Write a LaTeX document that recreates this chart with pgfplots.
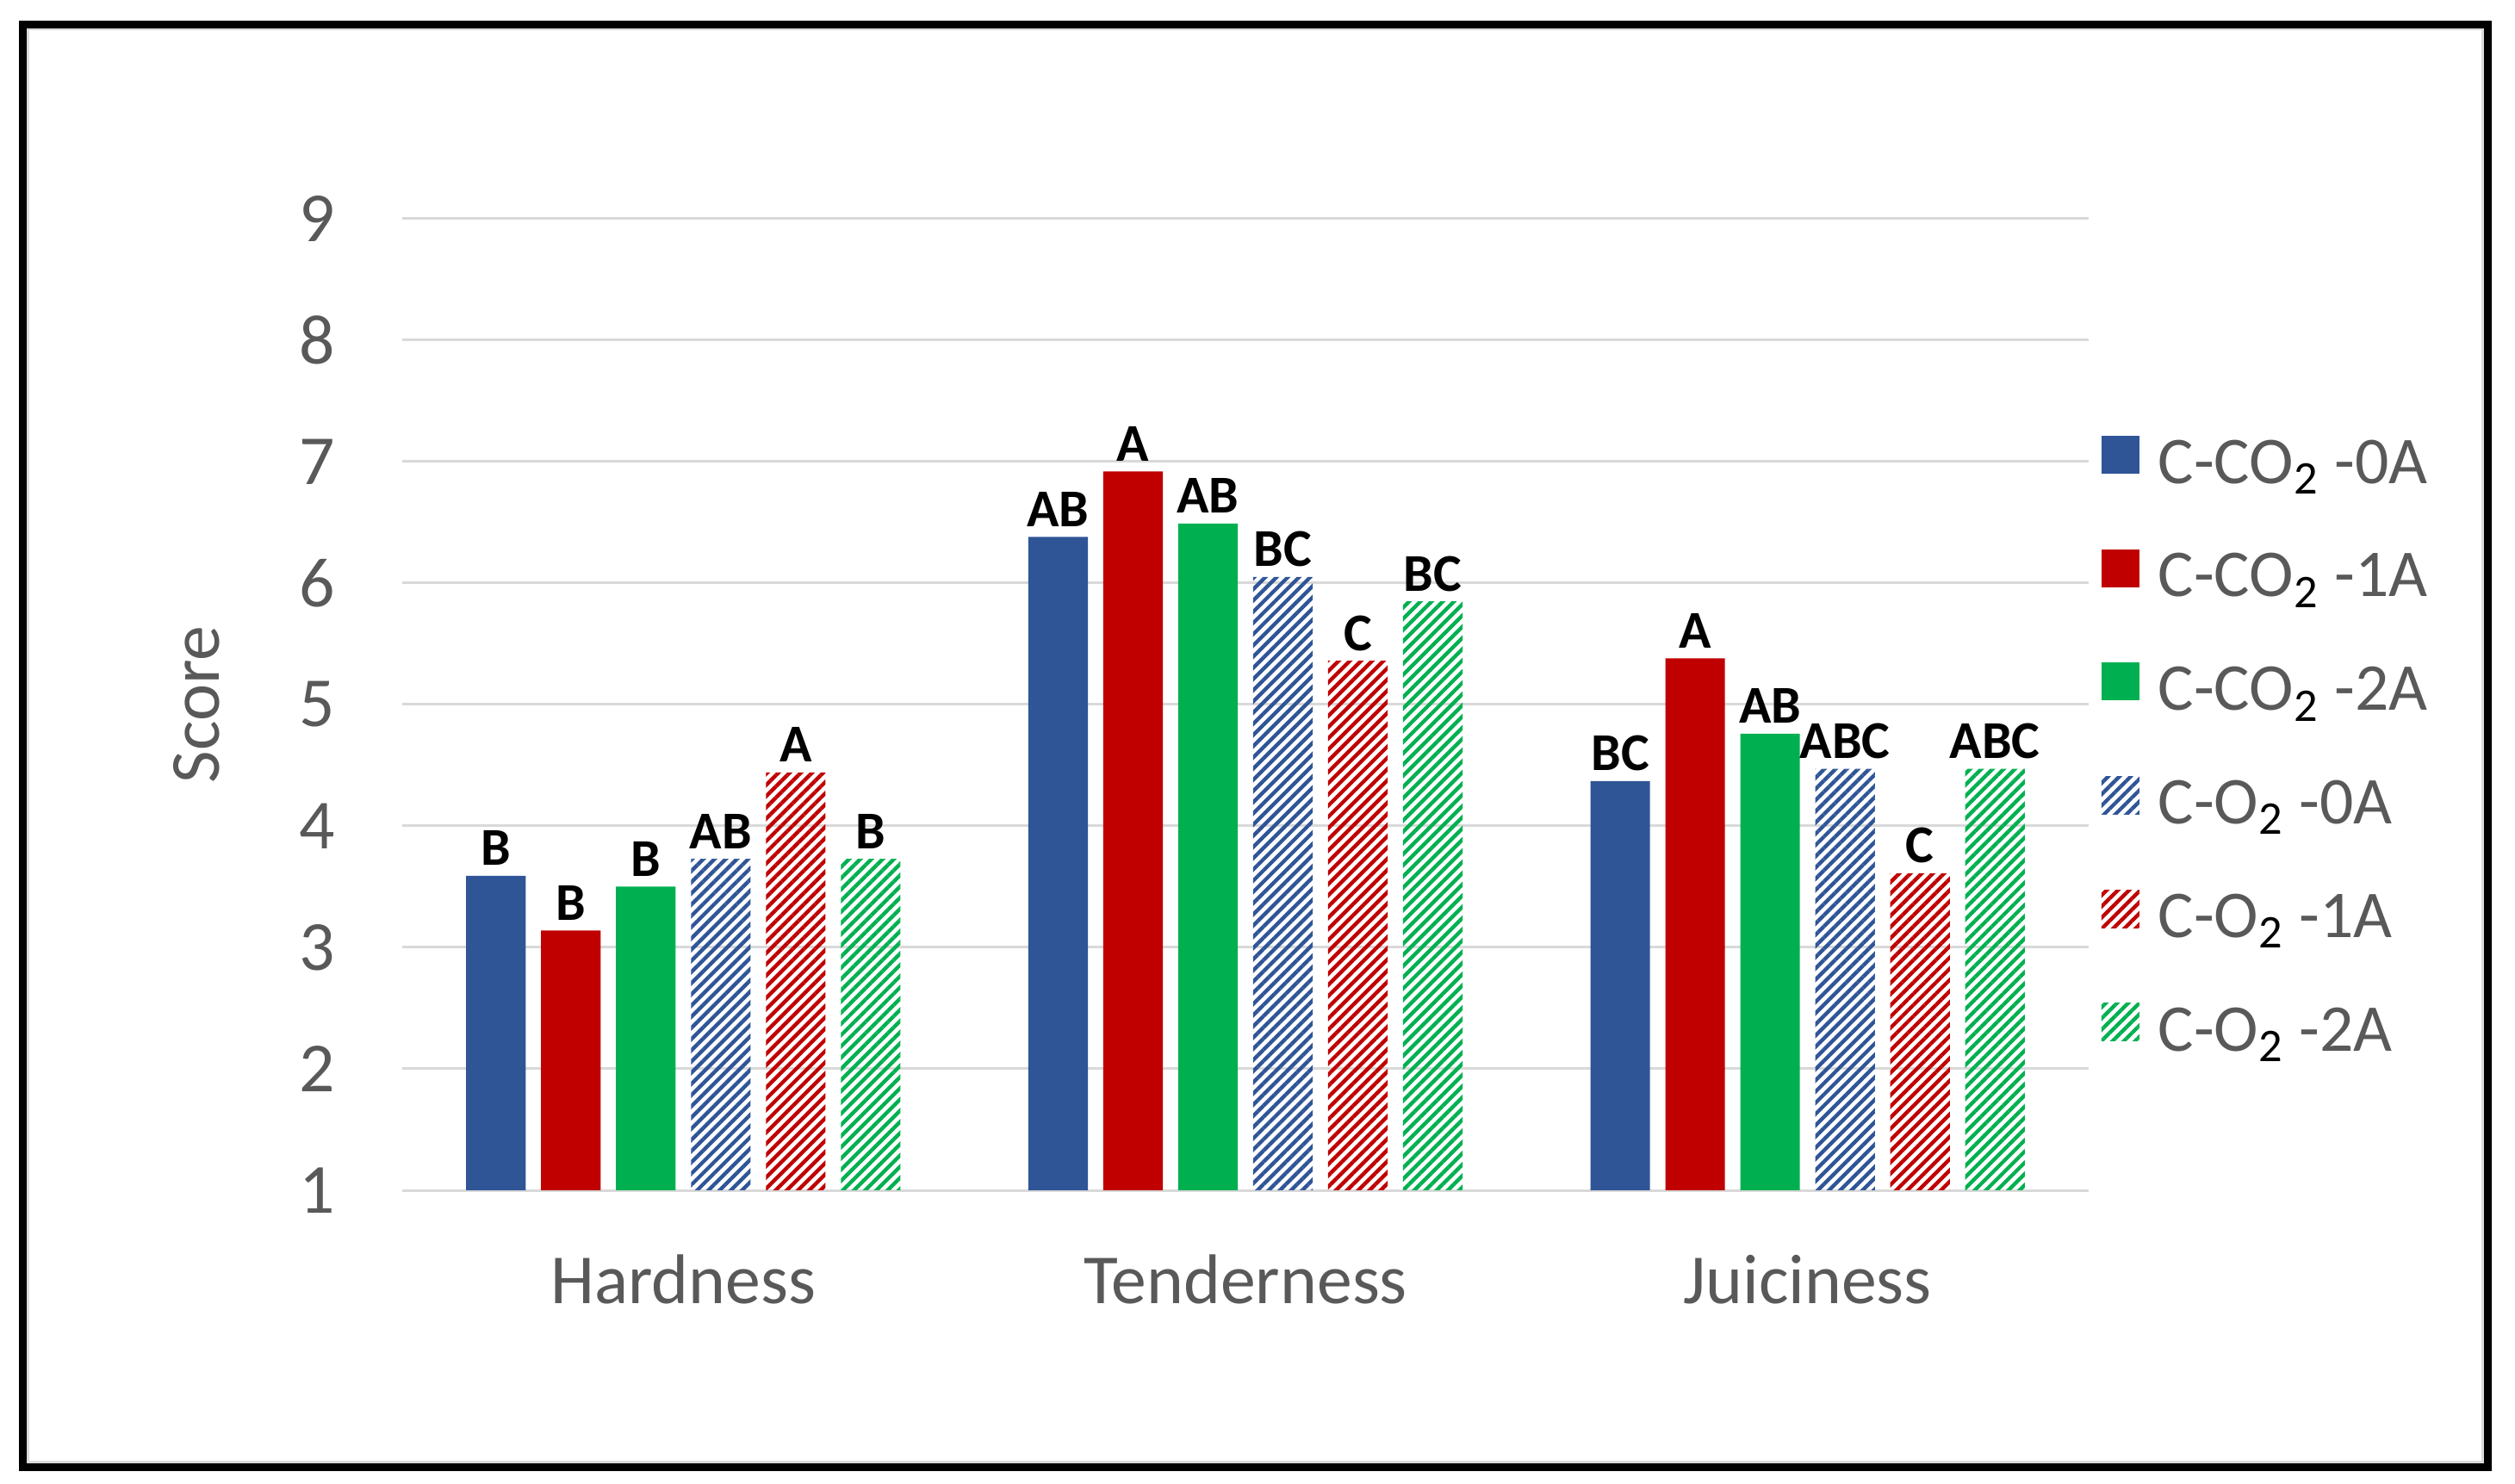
\documentclass[border=0pt]{standalone}
\usepackage{fontspec}
\setmainfont{Carlito}
\usepackage{pgfplots}
\usepackage{pgfplotstable}
\pgfplotsset{compat=1.18}
\usetikzlibrary{patterns.meta}
\definecolor{cblue}{HTML}{2F5597}
\definecolor{cred}{HTML}{C00000}
\definecolor{cgreen}{HTML}{00B050}
\definecolor{gridgray}{HTML}{D9D9D9}
\definecolor{labgray}{HTML}{595959}

\pgfplotstableread{
x y l
0 3.59 B
1 6.38 AB
2 4.37 BC
}\tA
\pgfplotstableread{
x y l
0 3.14 B
1 6.92 A
2 5.38 A
}\tB
\pgfplotstableread{
x y l
0 3.50 B
1 6.49 AB
2 4.76 AB
}\tC
\pgfplotstableread{
x y l
0 3.73 AB
1 6.05 BC
2 4.47 ABC
}\tD
\pgfplotstableread{
x y l
0 4.44 A
1 5.36 C
2 3.61 C
}\tE
\pgfplotstableread{
x y l
0 3.73 B
1 5.85 BC
2 4.47 ABC
}\tF

\begin{document}
\begin{tikzpicture}
\path[use as bounding box] (-116.75bp,-85.25bp) rectangle (613.25bp,345.5bp);
\draw[gridgray, line width=0.75bp] (-108.5bp,-78.75bp) rectangle (603.75bp,337bp);
\draw[black, line width=2.25bp] (-110.125bp,-80.375bp) rectangle (605.375bp,338.25bp);
\begin{axis}[
  at={(0,0)}, anchor=south west,
  scale only axis, width=489.5bp, height=282bp,
  xmin=-0.5, xmax=2.5, ymin=1, ymax=9,
  ytick={1,2,...,9},
  xtick={0,1,2}, xticklabels={Hardness,Tenderness,Juiciness},
  axis line style={draw=none},
  major tick length=0pt,
  ymajorgrids, grid style={color=gridgray, line width=0.75bp},
  /pgf/number format/assume math mode=true,
  tick label style={font=\fontsize{20.5}{24}\selectfont, text=labgray},
  yticklabel style={anchor=east, inner sep=0pt, xshift=-19.25bp},
  xticklabel style={anchor=base, inner sep=0pt, yshift=-32.75bp},
  ylabel={Score},
  every axis y label/.style={at={(axis description cs:-0.1083,0.5)}, rotate=90, anchor=base, font=\fontsize{20.5}{24}\selectfont, text=labgray, inner sep=0pt},
  ybar, bar width=0.106,
  point meta=explicit symbolic,
  nodes near coords,
  every node near coord/.append style={font=\bfseries\fontsize{15.5}{18}\selectfont, text=black, anchor=base, inner sep=0pt, yshift=3bp},
  legend style={
    at={(axis description cs:1.00756,0.7845)}, anchor=north west,
    draw=none, fill=none, inner sep=0pt, outer sep=0pt,
    row sep=10.95bp,
    font=\fontsize{19.5}{23}\selectfont, text=labgray,
    nodes={inner sep=0pt, text height=16bp, text depth=6bp},
    /tikz/every odd column/.append style={column sep=5.5bp},
  },
  legend cell align=left,
  legend image code/.code={\fill[#1] (0bp,-2.2bp) rectangle (11bp,8.8bp);},
]
\addplot[draw=none, fill=cblue, bar shift=-0.3333] table[x=x,y=y,meta=l] {\tA};
\addlegendentry{C-CO\textsubscript{\textcolor{black}{2}} -0A}
\addplot[draw=none, fill=cred, bar shift=-0.2] table[x=x,y=y,meta=l] {\tB};
\addlegendentry{C-CO\textsubscript{\textcolor{black}{2}} -1A}
\addplot[draw=none, fill=cgreen, bar shift=-0.0667] table[x=x,y=y,meta=l] {\tC};
\addlegendentry{C-CO\textsubscript{\textcolor{black}{2}} -2A}
\addplot[draw=none, pattern={Lines[angle=45,distance=2.3bp,line width=1.1bp]}, pattern color=cblue, bar shift=0.0667] table[x=x,y=y,meta=l] {\tD};
\addlegendentry{C-O\textsubscript{\textcolor{black}{2}} -0A}
\addplot[draw=none, pattern={Lines[angle=45,distance=2.3bp,line width=1.1bp]}, pattern color=cred, bar shift=0.2] table[x=x,y=y,meta=l] {\tE};
\addlegendentry{C-O\textsubscript{\textcolor{black}{2}} -1A}
\addplot[draw=none, pattern={Lines[angle=45,distance=2.3bp,line width=1.1bp]}, pattern color=cgreen, bar shift=0.3333] table[x=x,y=y,meta=l] {\tF};
\addlegendentry{C-O\textsubscript{\textcolor{black}{2}} -2A}
\end{axis}
\end{tikzpicture}
\end{document}
